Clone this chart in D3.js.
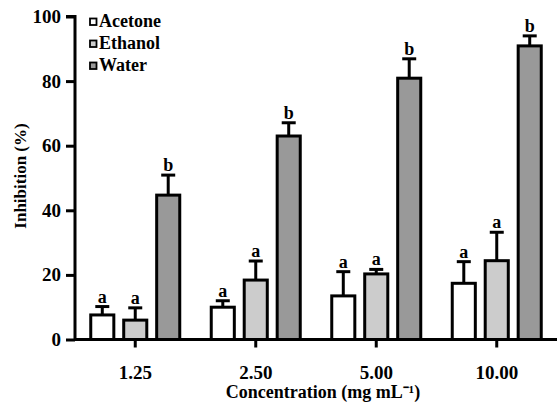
<!DOCTYPE html>
<html>
<head>
<meta charset="utf-8">
<script src="https://cdn.jsdelivr.net/npm/d3@7"></script>
<style>
  body { margin: 0; background: #fff; }
</style>
</head>
<body>
<div id="chart"></div>
<script>
// data
const concentrations = ["1.25", "2.50", "5.00", "10.00"];
const seriesNames = ["Acetone", "Ethanol", "Water"];
const acetone = [7.6, 10.0, 13.5, 17.4];
const ethanol = [6.0, 18.4, 20.3, 24.4];
const water = [44.7, 63.0, 80.9, 90.9];
const acetoneErr = [2.6, 2.0, 7.5, 6.7];
const ethanolErr = [3.8, 5.9, 1.4, 8.8];
const waterErr = [6.2, 4.1, 6.0, 3.1];
const acetoneLetters = ["a", "a", "a", "a"];
const ethanolLetters = ["a", "a", "a", "a"];
const waterLetters = ["b", "b", "b", "b"];
const yTicks = [0, 20, 40, 60, 80, 100];
const fills = ["#ffffff", "#cccccc", "#999999"];

const W = 559, H = 409;
const FONT = "'Liberation Serif', serif";
const margin = { left: 75, right: 2, top: 16.5, bottom: 69.5 };

const svg = d3.select("#chart").append("svg").attr("width", W).attr("height", H);

const x = d3.scaleBand().domain(concentrations).range([margin.left, W - margin.right]);
const inner = d3.scaleBand().domain(seriesNames).range([-44.5, 44.5]).paddingInner(0.3);
const y = d3.scaleLinear().domain([0, 100]).range([H - margin.bottom, margin.top]);

const vals = [acetone, ethanol, water];
const errs = [acetoneErr, ethanolErr, waterErr];
const letters = [acetoneLetters, ethanolLetters, waterLetters];

const rows = [];
seriesNames.forEach((s, k) => {
  concentrations.forEach((c, i) => {
    rows.push({ c, s, k, v: vals[k][i], e: errs[k][i], l: letters[k][i] });
  });
});

const left = d => x(d.c) + x.bandwidth() / 2 + inner(d.s);
const mid = d => left(d) + inner.bandwidth() / 2;

// error bars (upper only)
const eb = svg.append("g").attr("stroke", "#000").attr("stroke-width", 3);
eb.selectAll("line.v").data(rows).join("line")
  .attr("x1", mid).attr("x2", mid)
  .attr("y1", d => y(d.v)).attr("y2", d => y(d.v + d.e));
eb.selectAll("line.c").data(rows).join("line")
  .attr("x1", d => mid(d) - 7).attr("x2", d => mid(d) + 7)
  .attr("y1", d => y(d.v + d.e)).attr("y2", d => y(d.v + d.e));

// bars
svg.append("g").selectAll("rect").data(rows).join("rect")
  .attr("x", left).attr("width", inner.bandwidth())
  .attr("y", d => y(d.v)).attr("height", d => y(0) - y(d.v))
  .attr("fill", d => fills[d.k]).attr("stroke", "#000").attr("stroke-width", 3);

// significance letters
svg.append("g").selectAll("text").data(rows).join("text")
  .attr("x", mid).attr("y", d => y(d.v + d.e) - 4)
  .attr("text-anchor", "middle").attr("font-size", 18).attr("font-weight", "bold")
  .style("font-family", FONT)
  .text(d => d.l);

// axes
const yAxis = svg.append("g").attr("transform", `translate(${margin.left},0)`)
  .call(d3.axisLeft(y).tickValues(yTicks).tickSize(9).tickPadding(5));
const xAxis = svg.append("g").attr("transform", `translate(0,${y(0)})`)
  .call(d3.axisBottom(x).tickSize(8).tickPadding(18));
[yAxis, xAxis].forEach(a => {
  a.select(".domain").attr("stroke", "#000").attr("stroke-width", 3);
  a.selectAll(".tick line").attr("stroke", "#000").attr("stroke-width", 3);
  a.selectAll(".tick text").attr("fill", "#000").attr("font-size", 19).attr("font-weight", "bold")
    .style("font-family", FONT);
});
yAxis.select(".domain").attr("d", `M-9,${y(100)}H0V${y(0)}`);
xAxis.select(".domain").attr("d", `M${margin.left},0H${W - margin.right}`);

// axis titles
svg.append("text").attr("transform", "translate(26,176) rotate(-90)")
  .attr("text-anchor", "middle").attr("font-size", 17).attr("font-weight", "bold")
  .style("font-family", FONT)
  .text("Inhibition (%)");
svg.append("text").attr("x", 323).attr("y", 397.5).attr("text-anchor", "middle")
  .attr("font-size", 18).attr("font-weight", "bold").style("font-family", FONT)
  .text("Concentration (mg mL⁻¹)");

// legend
const lg = svg.append("g").selectAll("g").data(seriesNames).join("g")
  .attr("transform", (d, i) => `translate(90,${19 + i * 22})`);
lg.append("rect").attr("width", 6.5).attr("height", 6.5).attr("y", -0.5)
  .attr("fill", (d, i) => fills[i]).attr("stroke", "#000").attr("stroke-width", 1.8);
lg.append("text").attr("x", 9).attr("y", 7.5).attr("font-size", 18).attr("font-weight", "bold")
  .style("font-family", FONT)
  .text(d => d);
</script>
</body>
</html>
